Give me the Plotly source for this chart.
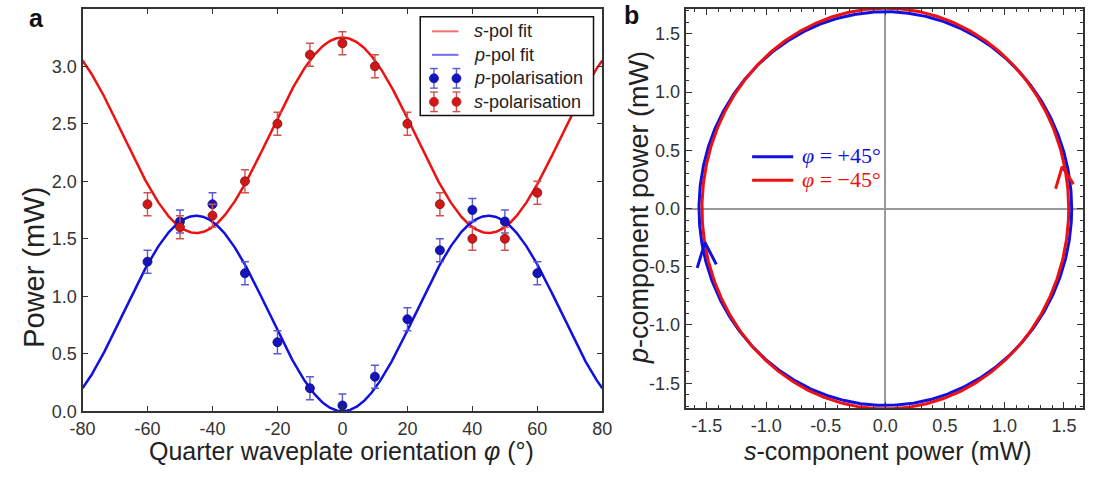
import numpy as np
import plotly.graph_objects as go

# ---------------- Panel a: power vs quarter-waveplate orientation ----------------
phi_deg = [-60, -50, -40, -30, -20, -10, 0, 10, 20, 30, 40, 50, 60]
p_power = [1.30, 1.65, 1.80, 1.20, 0.60, 0.20, 0.05, 0.30, 0.80, 1.40, 1.75, 1.65, 1.20]
s_power = [1.80, 1.60, 1.70, 2.00, 2.50, 3.10, 3.20, 3.00, 2.50, 1.80, 1.50, 1.50, 1.90]
power_err = [0.10] * len(phi_deg)

# Fit parameters: P = offset + amp * cos(4 phi)
s_fit_offset, s_fit_amp = 2.40, 0.85
p_fit_offset, p_fit_amp = 0.85, -0.85

a_xticks = [-80, -60, -40, -20, 0, 20, 40, 60, 80]
a_xticktext = ["-80", "-60", "-40", "-20", "0", "20", "40", "60", "80"]
a_yticks = [0.0, 0.5, 1.0, 1.5, 2.0, 2.5, 3.0, 3.5]
a_yticktext = ["0.0", "0.5", "1.0", "1.5", "2.0", "2.5", "3.0", "3.5"]

# ---------------- Panel b: polarisation ellipses ----------------
# semi-axes (s, p) in mW for each waveplate setting
ellipse_plus45 = (1.565, 1.690)
ellipse_minus45 = (1.540, 1.720)
# open arrowheads showing the sense of rotation: (arm1, tip, arm2)
arrow_plus45_x = [-1.58, -1.515, -1.42]
arrow_plus45_y = [-0.51, -0.29, -0.48]
arrow_minus45_x = [1.43, 1.485, 1.58]
arrow_minus45_y = [0.17, 0.36, 0.21]

b_ticks = [-1.5, -1.0, -0.5, 0.0, 0.5, 1.0, 1.5]
b_ticktext = ["-1.5", "-1.0", "-0.5", "0.0", "0.5", "1.0", "1.5"]

RED = "#ee1111"
BLUE = "#1010e0"
RED_PT = "#d01818"
BLUE_PT = "#1414b8"
RED_EB = "#d05050"
BLUE_EB = "#5a5ad0"
FONT = "Liberation Sans, Arial, sans-serif"
SERIF = "Liberation Serif, Times New Roman, serif"
AX = "#333333"

W, H = 1093, 477

fig = go.Figure()

phi_fine = np.linspace(-80, 80, 641)
cos4 = np.cos(np.deg2rad(4 * phi_fine))

fig.add_trace(go.Scatter(
    x=phi_fine, y=s_fit_offset + s_fit_amp * cos4, mode="lines",
    line=dict(color=RED, width=2.5), name="s-pol fit",
    xaxis="x", yaxis="y"))
fig.add_trace(go.Scatter(
    x=phi_fine, y=p_fit_offset + p_fit_amp * cos4, mode="lines",
    line=dict(color=BLUE, width=2.5), name="p-pol fit",
    xaxis="x", yaxis="y"))
fig.add_trace(go.Scatter(
    x=phi_deg, y=p_power, mode="markers",
    marker=dict(color=BLUE_PT, size=9, line=dict(color="#0a0a80", width=0.8)),
    error_y=dict(type="data", array=power_err, visible=True,
                 color=BLUE_EB, thickness=1.4, width=4),
    name="p-polarisation", xaxis="x", yaxis="y"))
fig.add_trace(go.Scatter(
    x=phi_deg, y=s_power, mode="markers",
    marker=dict(color=RED_PT, size=9, line=dict(color="#801010", width=0.8)),
    error_y=dict(type="data", array=power_err, visible=True,
                 color=RED_EB, thickness=1.4, width=4),
    name="s-polarisation", xaxis="x", yaxis="y"))

# Panel b ellipses
t = np.linspace(0, 2 * np.pi, 721)
for (sa, pa), col in ((ellipse_plus45, BLUE), (ellipse_minus45, RED)):
    fig.add_trace(go.Scatter(
        x=sa * np.cos(t), y=pa * np.sin(t), mode="lines",
        line=dict(color=col, width=3),
        xaxis="x2", yaxis="y2"))
fig.add_trace(go.Scatter(
    x=arrow_plus45_x, y=arrow_plus45_y, mode="lines",
    line=dict(color=BLUE, width=3), xaxis="x2", yaxis="y2"))
fig.add_trace(go.Scatter(
    x=arrow_minus45_x, y=arrow_minus45_y, mode="lines",
    line=dict(color=RED, width=3), xaxis="x2", yaxis="y2"))

tickfont = dict(family=FONT, size=18, color=AX)
common = dict(showline=True, linecolor=AX, linewidth=2, mirror="ticks",
              ticks="inside", tickcolor=AX, showgrid=False, tickfont=tickfont,
              fixedrange=True)
minor = dict(ticks="inside", tickmode="linear", tick0=0, dtick=0.1,
             ticklen=3, tickcolor=AX)

fig.update_layout(
    width=W, height=H,
    margin=dict(l=0, r=0, t=0, b=0),
    paper_bgcolor="white", plot_bgcolor="white",
    font=dict(family=FONT, color="#222222"),
    showlegend=False,
    xaxis=dict(domain=[71 / W, 602 / W], range=[-80, 80], anchor="y",
               tickmode="array", tickvals=a_xticks, ticktext=a_xticktext,
               ticklen=5, zeroline=False, **common),
    yaxis=dict(domain=[57 / H, 468 / H], range=[0, 3.5], anchor="x",
               tickmode="array", tickvals=a_yticks, ticktext=a_yticktext,
               ticklen=5, zeroline=False, **common),
    xaxis2=dict(domain=[687 / W, 1.0], range=[-1.678, 1.66], anchor="y2",
                tickmode="array", tickvals=b_ticks, ticktext=b_ticktext,
                ticklen=6, zeroline=True, zerolinecolor="#999999", zerolinewidth=1.5,
                minor=minor, **common),
    yaxis2=dict(domain=[60 / H, 468 / H], range=[-1.715, 1.715], anchor="x2",
                tickmode="array", tickvals=b_ticks, ticktext=b_ticktext,
                ticklen=6, zeroline=True, zerolinecolor="#999999", zerolinewidth=1.5,
                minor=minor, **common),
)


def px(x):
    return x / W


def py(y):
    return 1 - y / H


def px_annot(text, x, y, size, color="#222222", family=FONT, angle=0,
             xanchor="center", yanchor="middle"):
    fig.add_annotation(text=text, x=px(x), y=py(y), xref="paper", yref="paper",
                       showarrow=False, textangle=angle, xanchor=xanchor,
                       yanchor=yanchor, font=dict(family=family, size=size, color=color))


def px_line(x0, y0, x1, y1, color, width, opacity=1.0):
    fig.add_shape(type="line", xref="paper", yref="paper",
                  x0=px(x0), x1=px(x1), y0=py(y0), y1=py(y1), opacity=opacity,
                  line=dict(color=color, width=width))


# panel letters
px_annot("<b>a</b>", 24, 18, 25, color="#111111")
px_annot("<b>b</b>", 632, 15, 25, color="#111111")

# axis titles
px_annot("Power (mW)", 22, 273, 29, angle=-90)
px_annot("Quarter waveplate orientation <i>φ</i> (°)", 336, 461, 25)
px_annot("<i>p</i>-component power (mW)", 639, 212, 27, angle=-90)
px_annot("<i>s</i>-component power (mW)", 894, 461, 25)

# ---- panel a key (boxed) ----
fig.add_shape(type="rect", xref="paper", yref="paper",
              x0=px(416), x1=px(593), y0=py(118), y1=py(17),
              fillcolor="white", line=dict(color="#111111", width=1.5))
key_rows = [
    ("line", RED, None, "<i>s</i>-pol fit"),
    ("line", BLUE, None, "<i>p</i>-pol fit"),
    ("pts", BLUE_PT, BLUE_EB, "<i>p</i>-polarisation"),
    ("pts", RED_PT, RED_EB, "<i>s</i>-polarisation"),
]
for i, (kind, col, ebcol, label) in enumerate(key_rows):
    yy = 32 + 24 * i
    if kind == "line":
        px_line(428, yy, 455, yy, col, 2, opacity=0.6)
    else:
        for xx in (430, 453):
            px_line(xx, yy - 10, xx, yy + 10, ebcol, 1.4)
            px_line(xx - 4, yy - 10, xx + 4, yy - 10, ebcol, 1.4)
            px_line(xx - 4, yy + 10, xx + 4, yy + 10, ebcol, 1.4)
            fig.add_shape(type="circle", xref="paper", yref="paper",
                          xsizemode="pixel", ysizemode="pixel",
                          xanchor=px(xx), yanchor=py(yy),
                          x0=-4.5, x1=4.5, y0=-4.5, y1=4.5,
                          fillcolor=col, line=dict(color=col, width=0.8))
    px_annot(label, 469, yy, 18, xanchor="left")

# ---- panel b key ----
for (y, col, label) in ((160, BLUE, "<i>φ</i> = +45°"), (184, RED, "<i>φ</i> = −45°")):
    px_line(755, y, 797, y, col, 3)
    px_annot(label, 804, y - 1, 22, color=col, family=SERIF, xanchor="left")

fig.write_html("out.html")
